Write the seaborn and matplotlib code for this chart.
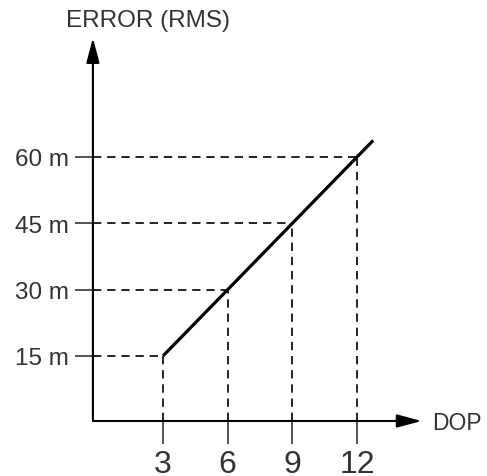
import numpy as np
import pandas as pd
import seaborn as sns
import matplotlib.pyplot as plt

# values
dop_ticks = [3, 6, 9, 12]
error_ticks = [15, 30, 45, 60]
error_labels = ["15 m", "30 m", "45 m", "60 m"]
line_dop = [3, 6, 9, 12, 12.75]
line_error = [15, 30, 45, 60, 63.75]

sns.set_style("white")
plt.rcParams['font.family'] = ['Liberation Sans', 'DejaVu Sans']
text_color = "#333333"

fig = plt.figure(figsize=(4.87, 4.77), dpi=100)
ax = fig.add_axes([0, 0, 1, 1])
ax.set_xlim(-4.56, 18.03)
ax.set_ylim(-12.14, 95.73)

x0, y0 = -0.25, 0.3  # where the two axes cross

# axes drawn as arrows, spines only used to place the ticks
for side in ['left', 'bottom', 'top', 'right']:
    ax.spines[side].set_visible(False)
ax.spines['left'].set_position(('data', x0))
ax.spines['bottom'].set_position(('data', y0))

arrow = dict(arrowstyle='-|>,head_length=0.6,head_width=0.16', mutation_scale=25,
             lw=1.5, color='black', shrinkA=0, shrinkB=0)
ax.annotate('', xy=(15.0, y0), xytext=(x0, y0), arrowprops=arrow)
ax.annotate('', xy=(x0, 86.9), xytext=(x0, y0), arrowprops=arrow)

# dashed guides
dash = (0, (5, 3.5))
ax.hlines(error_ticks, x0, dop_ticks, colors='black', lw=1.2, linestyles=[dash])
ax.vlines(dop_ticks, y0, error_ticks, colors='black', lw=1.2, linestyles=[dash])

df = pd.DataFrame({'DOP': line_dop, 'Error': line_error})
sns.lineplot(data=df, x='DOP', y='Error', ax=ax, color='black', lw=2.3,
             solid_capstyle='butt')

ax.set_xticks(dop_ticks)
ax.set_xticklabels([str(v) for v in dop_ticks])
ax.set_yticks(error_ticks)
ax.set_yticklabels(error_labels)
ax.tick_params(axis='x', direction='out', length=16.5, width=1.1, pad=4,
               labelsize=23, labelcolor=text_color, bottom=True)
ax.tick_params(axis='y', direction='out', length=13, width=1.1, pad=4,
               labelsize=17.5, labelcolor=text_color, left=True)
ax.set_xlabel('')
ax.set_ylabel('')

ax.text(2.3, 91.0, 'ERROR (RMS)', fontsize=17.5, color=text_color,
        ha='center', va='center')
ax.text(15.48, -0.15, 'DOP', fontsize=16.5, color=text_color,
        ha='left', va='center')

fig.savefig('out.png', dpi=100)
